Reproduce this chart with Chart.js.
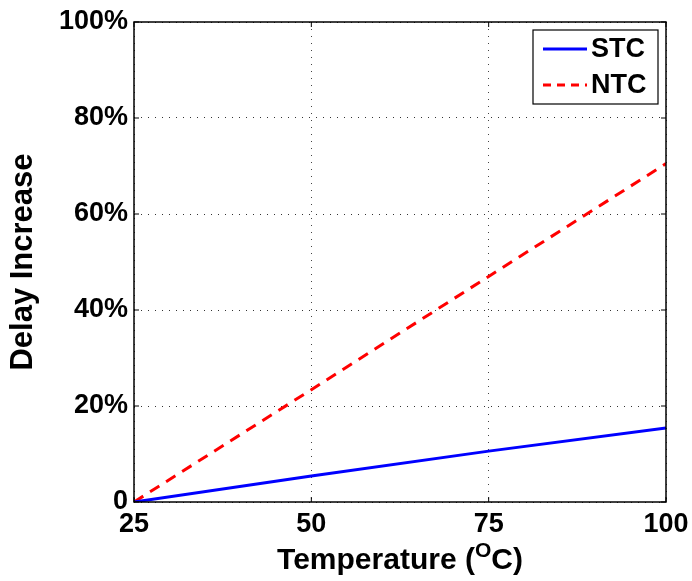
<!DOCTYPE html>
<html>
<head>
<meta charset="utf-8">
<script src="https://cdn.jsdelivr.net/npm/chart.js@4"></script>
<style>
  html, body { margin: 0; padding: 0; background: #fff; }
  #wrap { width: 692px; height: 581px; }
</style>
</head>
<body>
<div id="wrap"><canvas id="c"></canvas></div>
<script>
// data
let temps = [25, 50, 75, 100];
let stc = [0, 5.4, 10.6, 15.4];
let ntc = [0, 23.4, 47.0, 70.5];
let xTicks = [25, 50, 75, 100];
let yTickLabels = ['0', '20%', '40%', '60%', '80%', '100%'];

const FONT = "'Liberation Sans', Arial, Helvetica, sans-serif";

// box around the plot + inward ticks (matlab look)
const boxPlugin = {
    id: 'box',
    afterDatasetsDraw(chart) {
        let ctx = chart.ctx;
        let a = chart.chartArea;
        let xs = chart.scales.x, ys = chart.scales.y;
        ctx.save();
        ctx.strokeStyle = '#000';
        ctx.lineWidth = 1.5;
        ctx.setLineDash([]);
        ctx.strokeRect(a.left, a.top, a.right - a.left, a.bottom - a.top);
        ctx.lineWidth = 1;
        xs.ticks.forEach(t => {
            let px = xs.getPixelForValue(t.value);
            ctx.beginPath();
            ctx.moveTo(px, a.bottom); ctx.lineTo(px, a.bottom - 5);
            ctx.moveTo(px, a.top); ctx.lineTo(px, a.top + 5);
            ctx.stroke();
        });
        ys.ticks.forEach(t => {
            let py = ys.getPixelForValue(t.value);
            ctx.beginPath();
            ctx.moveTo(a.left, py); ctx.lineTo(a.left + 5, py);
            ctx.moveTo(a.right, py); ctx.lineTo(a.right - 5, py);
            ctx.stroke();
        });
        ctx.restore();
    }
};

// legend inside top right corner
const legendBox = {
    id: 'legendBox',
    afterDraw(chart) {
        let ctx = chart.ctx;
        let a = chart.chartArea;
        let w = 125, h = 74;
        let x0 = a.right - 8 - w, y0 = a.top + 8;
        ctx.save();
        ctx.fillStyle = '#fff';
        ctx.fillRect(x0, y0, w, h);
        ctx.strokeStyle = '#000';
        ctx.lineWidth = 1.2;
        ctx.setLineDash([]);
        ctx.strokeRect(x0, y0, w, h);
        chart.data.datasets.forEach((ds, i) => {
            let y = y0 + 19 + i * 36;
            ctx.strokeStyle = ds.borderColor;
            ctx.lineWidth = 3;
            ctx.setLineDash(i == 1 ? [8, 6] : []);
            ctx.beginPath();
            ctx.moveTo(x0 + 10, y);
            ctx.lineTo(x0 + 54, y);
            ctx.stroke();
            ctx.setLineDash([]);
            ctx.fillStyle = '#000';
            ctx.font = 'bold 27px ' + FONT;
            ctx.textBaseline = 'middle';
            ctx.textAlign = 'left';
            ctx.fillText(ds.label, x0 + 58, y + 1);
        });
        ctx.restore();
    }
};

// x title with superscript O
const xTitle = {
    id: 'xTitle',
    afterDraw(chart) {
        let ctx = chart.ctx;
        let a = chart.chartArea;
        ctx.save();
        ctx.fillStyle = '#000';
        ctx.textBaseline = 'alphabetic';
        ctx.textAlign = 'left';
        let big = 'bold 30px ' + FONT, small = 'bold 21px ' + FONT;
        ctx.font = big;
        let p1 = 'Temperature (', p3 = 'C)';
        let w1 = ctx.measureText(p1).width, w3 = ctx.measureText(p3).width;
        ctx.font = small;
        let w2 = ctx.measureText('O').width;
        let total = w1 + w2 + w3;
        let x = (a.left + a.right) / 2 - total / 2;
        let base = 569;
        ctx.font = big;
        ctx.fillText(p1, x, base);
        ctx.font = small;
        ctx.fillText('O', x + w1, base - 12);
        ctx.font = big;
        ctx.fillText(p3, x + w1 + w2, base);
        ctx.restore();
    }
};

function drawChart() {
    let mydata = {
        datasets: [{
            label: 'STC',
            data: temps.map((t, i) => ({ x: t, y: stc[i] })),
            borderColor: '#0000ff',
            borderWidth: 3,
            pointRadius: 0,
            fill: false,
        }, {
            label: 'NTC',
            data: temps.map((t, i) => ({ x: t, y: ntc[i] })),
            borderColor: '#ff0000',
            borderWidth: 3,
            borderDash: [11, 8],
            pointRadius: 0,
            fill: false,
        }]
    };

    new Chart(document.getElementById('c'), {
        type: 'line',
        data: mydata,
        options: {
            responsive: true,
            maintainAspectRatio: false,
            animation: false,
            layout: { padding: { left: 0, right: 26, top: 22, bottom: 0 } },
            plugins: {
                legend: { display: false },
                tooltip: { enabled: false },
            },
            scales: {
                x: {
                    type: 'linear',
                    min: 25,
                    max: 100,
                    afterBuildTicks: (s) => { s.ticks = xTicks.map(v => ({ value: v })); },
                    afterFit: (s) => { s.height = 79; s.paddingLeft = 0; s.paddingRight = 0; },
                    grid: {
                        color: '#444',
                        lineWidth: 1,
                        drawTicks: false,
                    },
                    border: { display: false, dash: [1, 6] },
                    ticks: {
                        color: '#000',
                        padding: 6,
                        maxRotation: 0,
                        font: { family: FONT, size: 27, weight: 'bold' },
                    },
                },
                y: {
                    min: 0,
                    max: 100,
                    ticks: {
                        stepSize: 20,
                        color: '#000',
                        padding: 6,
                        font: { family: FONT, size: 27, weight: 'bold' },
                        callback: (v, i) => yTickLabels[i],
                    },
                    afterFit: (s) => { s.width = 134; s.paddingTop = 0; s.paddingBottom = 0; },
                    grid: {
                        color: '#333',
                        lineWidth: 1,
                        drawTicks: false,
                    },
                    border: { display: false, dash: [1, 6] },
                    title: {
                        display: true,
                        text: 'Delay Increase',
                        color: '#000',
                        padding: { top: 5, bottom: 0 },
                        font: { family: FONT, size: 31, weight: 'bold' },
                    },
                },
            },
        },
        plugins: [boxPlugin, legendBox, xTitle],
    });
}

window.onload = drawChart;
</script>
</body>
</html>
